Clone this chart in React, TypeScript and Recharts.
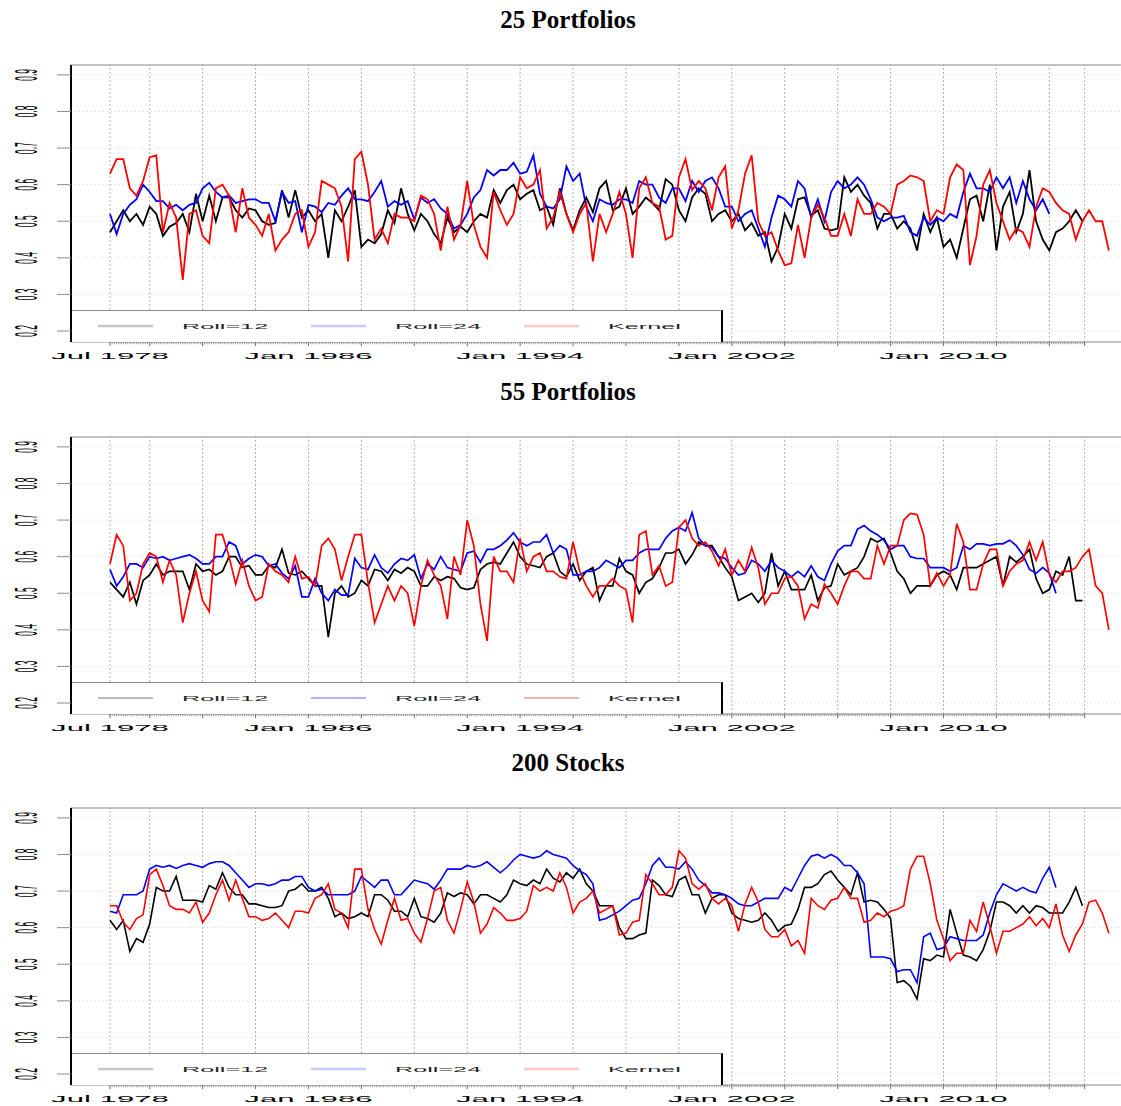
import React from 'react';
import { LineChart, Line, XAxis, YAxis, CartesianGrid, ReferenceLine, Legend } from 'recharts';

// ---- axis / tick definitions (months counted from Jul 1978) ----
const STEP = 3; // months between stored samples
const yTicks = [0.2, 0.3, 0.4, 0.5, 0.6, 0.7, 0.8, 0.9];
const gridMonths = [0, 18, 42, 66, 90, 114, 138, 162, 186, 210, 234, 258, 282, 306, 330, 354, 378, 402, 426, 442];
const labelMonths = [0, 90, 186, 282, 378];
const labelTexts = ['Jul 1978', 'Jan 1986', 'Jan 1994', 'Jan 2002', 'Jan 2010'];
const LAST_TICK_MONTH = 442;
const monthTicks = Array.from({ length: LAST_TICK_MONTH + 1 }, (_, i) => i);
const titles = ['25 Portfolios', '55 Portfolios', '200 Stocks'];
const seriesNames = ['Roll=12', 'Roll=24', 'Kernel'];

const X_MIN = -17.69;
const X_MAX = 458.5;
const Y_MIN = 0.17;
const Y_MAX = 0.927;

// ---- Panel 1: 25 Portfolios ----
const p1Roll12 = [
  0.47, 0.50, 0.53, 0.50, 0.52, 0.49, 0.54, 0.52, 0.46, 0.485,
  0.495, 0.52, 0.47, 0.575, 0.50, 0.57, 0.50, 0.565, 0.565, 0.53,
  0.51, 0.535, 0.53, 0.50, 0.49, 0.495, 0.585, 0.51, 0.585, 0.51,
  0.53, 0.50, 0.52, 0.40, 0.53, 0.50, 0.54, 0.585, 0.43, 0.45,
  0.44, 0.465, 0.53, 0.495, 0.59, 0.52, 0.475, 0.52, 0.50, 0.465,
  0.44,
  0.51, 0.47, 0.485, 0.47, 0.50, 0.52, 0.51, 0.585, 0.55, 0.585,
  0.60, 0.56, 0.575, 0.585, 0.53, 0.54, 0.49, 0.59, 0.52, 0.475,
  0.53, 0.565, 0.525, 0.59, 0.61, 0.53, 0.54, 0.59, 0.52, 0.54,
  0.565, 0.55, 0.53, 0.615, 0.60, 0.53, 0.50, 0.565, 0.59, 0.575,
  0.50, 0.52, 0.53, 0.50, 0.52, 0.475, 0.495, 0.46, 0.47, 0.39,
  0.43, 0.52,
  0.48, 0.56, 0.565, 0.515, 0.53, 0.48, 0.475, 0.48, 0.62, 0.58,
  0.60, 0.57, 0.55, 0.48, 0.52, 0.52, 0.48, 0.50, 0.48, 0.42,
  0.52, 0.47, 0.51, 0.43, 0.45, 0.40, 0.48, 0.56, 0.57, 0.50,
  0.60, 0.42, 0.54, 0.58, 0.47, 0.52, 0.64, 0.50, 0.45, 0.42,
  0.47, 0.48, 0.50, 0.53, 0.50,
];
const p1Roll24 = [
  0.52, 0.465, 0.52, 0.545, 0.56, 0.60, 0.58, 0.555, 0.555, 0.535,
  0.545, 0.53, 0.545, 0.55, 0.59, 0.605, 0.58, 0.565, 0.57, 0.55,
  0.555, 0.56, 0.56, 0.55, 0.55, 0.50, 0.58, 0.55, 0.555, 0.47,
  0.545, 0.54, 0.525, 0.55, 0.545, 0.57, 0.59, 0.56, 0.56, 0.555,
  0.58, 0.61, 0.54, 0.555, 0.545, 0.555, 0.505, 0.565, 0.55, 0.56,
  0.535,
  0.52, 0.48, 0.49, 0.52, 0.565, 0.585, 0.64, 0.625, 0.64, 0.64,
  0.66, 0.63, 0.635, 0.68, 0.575, 0.54, 0.535, 0.56, 0.65, 0.61,
  0.63, 0.54, 0.50, 0.56, 0.55, 0.545, 0.56, 0.56, 0.55, 0.61,
  0.60, 0.60, 0.565, 0.55, 0.59, 0.59, 0.555, 0.61, 0.58, 0.61,
  0.62, 0.59, 0.54, 0.54, 0.50, 0.52, 0.53, 0.48, 0.43, 0.51,
  0.57, 0.56,
  0.54, 0.61, 0.59, 0.51, 0.56, 0.50, 0.58, 0.61, 0.59, 0.60,
  0.62, 0.60, 0.56, 0.51, 0.50, 0.51, 0.51, 0.515, 0.47, 0.46,
  0.51, 0.49, 0.51, 0.50, 0.52, 0.51, 0.58, 0.63, 0.59, 0.59,
  0.58, 0.62, 0.59, 0.62, 0.55, 0.61, 0.56, 0.53, 0.56, 0.52,
];
const p1Kernel = [
  0.63, 0.67, 0.67, 0.59, 0.57, 0.61, 0.675, 0.68, 0.47, 0.55,
  0.51, 0.34, 0.52, 0.53, 0.46, 0.44, 0.59, 0.60, 0.57, 0.47,
  0.59, 0.51, 0.49, 0.46, 0.52, 0.42, 0.45, 0.47, 0.52, 0.53,
  0.43, 0.47, 0.61, 0.60, 0.59, 0.54, 0.39, 0.67, 0.69, 0.60,
  0.45, 0.48, 0.44, 0.52, 0.51, 0.51, 0.50, 0.57, 0.56, 0.52,
  0.42,
  0.54, 0.45, 0.49, 0.61, 0.49, 0.43, 0.40, 0.58, 0.53, 0.49,
  0.52, 0.62, 0.59, 0.60, 0.64, 0.48, 0.51, 0.58, 0.52, 0.47,
  0.52, 0.55, 0.39, 0.52, 0.47, 0.52, 0.58, 0.52, 0.40, 0.59,
  0.62, 0.55, 0.54, 0.45, 0.46, 0.62, 0.67, 0.585, 0.61, 0.59,
  0.53, 0.62, 0.65, 0.48, 0.53, 0.63, 0.68, 0.50, 0.46, 0.47,
  0.42, 0.38,
  0.385, 0.49, 0.40, 0.51, 0.545, 0.51, 0.46, 0.46, 0.52, 0.46,
  0.56, 0.52, 0.52, 0.55, 0.54, 0.52, 0.60, 0.61, 0.625, 0.62,
  0.61, 0.50, 0.53, 0.52, 0.62, 0.655, 0.64, 0.38, 0.46, 0.60,
  0.64, 0.55, 0.50, 0.45, 0.48, 0.47, 0.43, 0.54, 0.59, 0.58,
  0.55, 0.53, 0.52, 0.45, 0.50, 0.53, 0.50, 0.50, 0.42,
];

// ---- Panel 2: 55 Portfolios ----
const p2Roll12 = [
  0.53, 0.51, 0.49, 0.53, 0.47, 0.535, 0.55, 0.58, 0.55, 0.56,
  0.56, 0.56, 0.51, 0.58, 0.56, 0.565, 0.55, 0.56, 0.60, 0.60,
  0.57, 0.575, 0.55, 0.55, 0.575, 0.57, 0.62, 0.555, 0.55, 0.56,
  0.54, 0.52, 0.52, 0.38, 0.50, 0.52, 0.49, 0.50, 0.535, 0.52,
  0.565, 0.56, 0.535, 0.565, 0.555, 0.57, 0.56, 0.52, 0.52, 0.545,
  0.535,
  0.545, 0.54, 0.515, 0.51, 0.515, 0.565, 0.58, 0.585, 0.58, 0.61,
  0.64, 0.60, 0.58, 0.575, 0.57, 0.60, 0.61, 0.56, 0.545, 0.58,
  0.535, 0.56, 0.57, 0.48, 0.52, 0.52, 0.595, 0.56, 0.55, 0.50,
  0.53, 0.54, 0.57, 0.61, 0.61, 0.62, 0.58, 0.605, 0.64, 0.63,
  0.63, 0.60, 0.57, 0.545, 0.48, 0.49, 0.50, 0.475, 0.50, 0.61,
  0.52, 0.56,
  0.51, 0.51, 0.51, 0.55, 0.48, 0.515, 0.52, 0.58, 0.55, 0.56,
  0.57, 0.60, 0.65, 0.64, 0.65, 0.61, 0.56, 0.54, 0.50, 0.52,
  0.52, 0.52, 0.55, 0.56, 0.55, 0.51, 0.57, 0.57, 0.57, 0.58,
  0.59, 0.60, 0.52, 0.60, 0.585, 0.60, 0.62, 0.54, 0.50, 0.51,
  0.56, 0.55, 0.60, 0.48, 0.48,
];
const p2Roll24 = [
  0.565, 0.52, 0.545, 0.58, 0.58, 0.57, 0.60, 0.595, 0.60, 0.59,
  0.595, 0.60, 0.605, 0.595, 0.58, 0.58, 0.60, 0.60, 0.64, 0.63,
  0.58, 0.595, 0.605, 0.60, 0.575, 0.58, 0.555, 0.54, 0.575, 0.49,
  0.49, 0.54, 0.50, 0.48, 0.51, 0.495, 0.495, 0.595, 0.57, 0.565,
  0.605, 0.57, 0.555, 0.58, 0.595, 0.59, 0.605, 0.54, 0.58, 0.565,
  0.60,
  0.57, 0.565, 0.56, 0.61, 0.615, 0.585, 0.62, 0.62, 0.63, 0.645,
  0.665, 0.64, 0.63, 0.64, 0.64, 0.66, 0.61, 0.63, 0.62, 0.55,
  0.55, 0.56, 0.56, 0.57, 0.59, 0.58, 0.57, 0.59, 0.59, 0.61,
  0.62, 0.62, 0.62, 0.65, 0.67, 0.68, 0.67, 0.72, 0.65, 0.63,
  0.625, 0.60, 0.595, 0.57, 0.55, 0.555, 0.59, 0.58, 0.56, 0.59,
  0.57, 0.56,
  0.545, 0.56, 0.545, 0.575, 0.545, 0.535, 0.58, 0.615, 0.63, 0.63,
  0.675, 0.685, 0.67, 0.66, 0.645, 0.62, 0.63, 0.63, 0.60, 0.595,
  0.595, 0.57, 0.57, 0.57, 0.56, 0.57, 0.63, 0.62, 0.635, 0.635,
  0.63, 0.635, 0.635, 0.645, 0.63, 0.605, 0.565, 0.555, 0.57, 0.555,
  0.50,
];
const p2Kernel = [
  0.58, 0.66, 0.63, 0.48, 0.50, 0.58, 0.61, 0.60, 0.53, 0.59,
  0.55, 0.42, 0.50, 0.56, 0.48, 0.45, 0.66, 0.66, 0.60, 0.525,
  0.59, 0.52, 0.48, 0.49, 0.58, 0.56, 0.55, 0.53, 0.60, 0.54,
  0.545, 0.52, 0.63, 0.65, 0.62, 0.535, 0.60, 0.66, 0.66, 0.53,
  0.42, 0.47, 0.52, 0.48, 0.52, 0.50, 0.41, 0.52, 0.59, 0.55,
  0.52,
  0.43, 0.60, 0.55, 0.70, 0.63, 0.47, 0.37, 0.60, 0.56, 0.56,
  0.53, 0.65, 0.56, 0.60, 0.61, 0.56, 0.56, 0.545, 0.54, 0.64,
  0.56, 0.52, 0.49, 0.52, 0.52, 0.54, 0.52, 0.51, 0.42, 0.66,
  0.67, 0.55, 0.575, 0.52, 0.53, 0.68, 0.70, 0.65, 0.63, 0.64,
  0.615, 0.575, 0.62, 0.55, 0.59, 0.56, 0.625, 0.57, 0.47, 0.50,
  0.50, 0.54,
  0.545, 0.52, 0.43, 0.47, 0.46, 0.525, 0.50, 0.47, 0.52, 0.56,
  0.56, 0.54, 0.54, 0.63, 0.58, 0.63, 0.63, 0.70, 0.718, 0.715,
  0.66, 0.52, 0.555, 0.52, 0.55, 0.69, 0.64, 0.51, 0.51, 0.58,
  0.62, 0.62, 0.52, 0.56, 0.58, 0.59, 0.64, 0.59, 0.64, 0.55,
  0.53, 0.56, 0.56, 0.57, 0.60, 0.62, 0.52, 0.50, 0.40,
];

// ---- Panel 3: 200 Stocks ----
const p3Roll12 = [
  0.62, 0.595, 0.62, 0.535, 0.57, 0.56, 0.61, 0.71, 0.70, 0.70,
  0.74, 0.675, 0.675, 0.675, 0.67, 0.715, 0.705, 0.75, 0.71, 0.69,
  0.69, 0.665, 0.665, 0.66, 0.655, 0.655, 0.66, 0.70, 0.705, 0.72,
  0.70, 0.70, 0.71, 0.68, 0.63, 0.64, 0.625, 0.63, 0.64, 0.63,
  0.69, 0.69, 0.675, 0.645, 0.645, 0.63, 0.68, 0.63, 0.625, 0.615,
  0.64,
  0.695, 0.685, 0.695, 0.69, 0.665, 0.69, 0.69, 0.68, 0.67, 0.69,
  0.73, 0.72, 0.715, 0.73, 0.72, 0.76, 0.735, 0.725, 0.75, 0.735,
  0.76, 0.72, 0.70, 0.66, 0.66, 0.66, 0.60, 0.57, 0.57, 0.58,
  0.585, 0.73, 0.715, 0.69, 0.685, 0.73, 0.74, 0.69, 0.69, 0.64,
  0.68, 0.69, 0.69, 0.64, 0.625, 0.62, 0.615, 0.62, 0.64, 0.62,
  0.59, 0.605,
  0.61, 0.65, 0.71, 0.71, 0.72, 0.745, 0.755, 0.73, 0.71, 0.69,
  0.75, 0.67, 0.675, 0.67, 0.65, 0.625, 0.45, 0.455, 0.44, 0.405,
  0.515, 0.51, 0.525, 0.52, 0.65, 0.585, 0.525, 0.52, 0.51, 0.54,
  0.59, 0.67, 0.67, 0.66, 0.64, 0.66, 0.64, 0.66, 0.655, 0.64,
  0.64, 0.64, 0.67, 0.71, 0.66,
];
const p3Roll24 = [
  0.645, 0.64, 0.69, 0.69, 0.69, 0.70, 0.76, 0.77, 0.765, 0.77,
  0.762, 0.77, 0.775, 0.77, 0.765, 0.775, 0.78, 0.78, 0.77, 0.75,
  0.73, 0.71, 0.72, 0.72, 0.715, 0.72, 0.73, 0.73, 0.74, 0.74,
  0.71, 0.70, 0.705, 0.69, 0.69, 0.69, 0.69, 0.70, 0.74, 0.725,
  0.71, 0.73, 0.73, 0.69, 0.69, 0.71, 0.73, 0.725, 0.72, 0.705,
  0.73,
  0.76, 0.76, 0.76, 0.77, 0.765, 0.77, 0.78, 0.765, 0.75, 0.765,
  0.785, 0.80, 0.795, 0.79, 0.795, 0.81, 0.80, 0.795, 0.79, 0.77,
  0.755, 0.745, 0.72, 0.62, 0.625, 0.635, 0.645, 0.66, 0.675, 0.68,
  0.72, 0.77, 0.79, 0.765, 0.765, 0.76, 0.78, 0.76, 0.73, 0.715,
  0.695, 0.695, 0.69, 0.68, 0.665, 0.66, 0.66, 0.67, 0.68, 0.68,
  0.68, 0.71,
  0.70, 0.735, 0.77, 0.795, 0.80, 0.79, 0.80, 0.79, 0.77, 0.77,
  0.75, 0.72, 0.52, 0.52, 0.52, 0.515, 0.48, 0.485, 0.485, 0.45,
  0.575, 0.585, 0.54, 0.545, 0.575, 0.57, 0.565, 0.565, 0.565, 0.58,
  0.64, 0.69, 0.72, 0.71, 0.70, 0.71, 0.70, 0.695, 0.735, 0.765,
  0.71,
];
const p3Kernel = [
  0.66, 0.66, 0.615, 0.595, 0.625, 0.635, 0.745, 0.76, 0.715, 0.66,
  0.65, 0.65, 0.64, 0.67, 0.615, 0.64, 0.69, 0.73, 0.675, 0.73,
  0.68, 0.63, 0.63, 0.62, 0.625, 0.64, 0.62, 0.60, 0.645, 0.645,
  0.64, 0.68, 0.69, 0.72, 0.65, 0.64, 0.60, 0.76, 0.76, 0.65,
  0.595, 0.555, 0.62, 0.68, 0.62, 0.625, 0.585, 0.56, 0.625, 0.70,
  0.71,
  0.62, 0.585, 0.65, 0.725, 0.67, 0.585, 0.61, 0.655, 0.64, 0.62,
  0.62, 0.625, 0.645, 0.715, 0.70, 0.71, 0.70, 0.75, 0.71, 0.64,
  0.67, 0.68, 0.70, 0.64, 0.65, 0.66, 0.58, 0.585, 0.615, 0.62,
  0.745, 0.72, 0.69, 0.69, 0.71, 0.81, 0.79, 0.72, 0.705, 0.72,
  0.68, 0.665, 0.68, 0.66, 0.59, 0.665, 0.71, 0.67, 0.595, 0.575,
  0.575, 0.595,
  0.55, 0.565, 0.53, 0.68, 0.66, 0.65, 0.675, 0.68, 0.71, 0.68,
  0.68, 0.615, 0.62, 0.64, 0.63, 0.645, 0.65, 0.66, 0.76, 0.795,
  0.795, 0.72, 0.62, 0.57, 0.51, 0.53, 0.53, 0.62, 0.59, 0.67,
  0.605, 0.53, 0.59, 0.59, 0.60, 0.61, 0.63, 0.605, 0.625, 0.60,
  0.665, 0.58, 0.535, 0.58, 0.61, 0.67, 0.675, 0.64, 0.585,
];

// ---- legend sample colours per panel ----
const legendPale = ['#c8c8c8', '#c8c8ff', '#ffc8c8'];
const legendThin = ['#7a7a7a', '#6464ff', '#ff6464'];

const SANS = '"Liberation Sans", Arial, Helvetica, sans-serif';

function buildRows(r12: number[], r24: number[], ker: number[]) {
  const n = Math.max(r12.length, r24.length, ker.length);
  const rows: any[] = [];
  for (let i = 0; i < n; i++) {
    rows.push({ t: i * STEP, r12: r12[i], r24: r24[i], ker: ker[i] });
  }
  return rows;
}

const XTick = (props: any) => {
  const { x, y, payload } = props;
  const v = payload.value;
  const major = gridMonths.includes(v);
  const li = labelMonths.indexOf(v);
  return (
    <g>
      <line x1={x} x2={x} y1={y} y2={y + (major ? 4 : 2.2)} stroke="#707070" strokeWidth={major ? 1.1 : 0.7} />
      {li >= 0 && (
        <text
          transform={`translate(${x},${y + 16.5}) scale(3.12,0.84)`}
          textAnchor="middle"
          fontFamily={SANS}
          fontSize={10}
          fill="#000"
        >
          {labelTexts[li]}
        </text>
      )}
    </g>
  );
};

const YTick = (props: any) => {
  const { x, y, payload } = props;
  return (
    <text
      transform={`translate(${x},${y}) scale(3.15,0.84) rotate(-90)`}
      textAnchor="middle"
      fontFamily={SANS}
      fontSize={10}
      fill="#000"
    >
      {Number(payload.value).toFixed(1)}
    </text>
  );
};

function makeLegend(colors: string[], width: number) {
  return () => (
    <div
      style={{
        width: 651,
        height: 32,
        boxSizing: 'border-box',
        borderTop: '1px solid #8c8c8c',
        borderRight: '2px solid #000',
        background: '#fff',
      }}
    >
      <svg width={649} height={31} style={{ display: 'block' }}>
        {seriesNames.map((name: string, i: number) => (
          <g key={name}>
            <line x1={26 + 213 * i} x2={81 + 213 * i} y1={15} y2={15} stroke={colors[i]} strokeWidth={width} />
            <text
              transform={`translate(${110 + 213 * i},17.5) scale(3.15,0.84)`}
              fontFamily={SANS}
              fontSize={8}
              fill="#222"
            >
              {name}
            </text>
          </g>
        ))}
      </svg>
    </div>
  );
}

function Panel(props: { title: string; rows: any[]; legendColors: string[]; legendWidth: number; lineWidth: number; top: number }) {
  const { title, rows, legendColors, legendWidth, lineWidth, top } = props;
  return (
    <div style={{ position: 'absolute', left: 0, top, width: 1121, height: 372 }}>
      <div
        style={{
          position: 'absolute',
          left: 268,
          top: 5,
          width: 600,
          textAlign: 'center',
          fontFamily: '"Liberation Serif", "Times New Roman", serif',
          fontWeight: 'bold',
          fontSize: 25,
          lineHeight: '30px',
          color: '#000',
        }}
      >
        {title}
      </div>
      <LineChart width={1121} height={372} data={rows} margin={{ top: 65, right: 0, bottom: 0, left: 0 }}>
        <CartesianGrid vertical={false} stroke="#d4d4d4" strokeDasharray="1 3" />
        {gridMonths.map((m) => (
          <ReferenceLine key={m} x={m} stroke="#b0b0b0" strokeDasharray="2 2" />
        ))}
        <ReferenceLine y={Y_MAX} stroke="#8c8c8c" />
        <XAxis
          dataKey="t"
          type="number"
          domain={[X_MIN, X_MAX]}
          ticks={monthTicks}
          interval={0}
          tick={(p: any) => <XTick {...p} />}
          tickLine={false}
          tickSize={0}
          tickMargin={0}
          height={30}
          axisLine={{ stroke: '#8c8c8c' }}
          allowDataOverflow
        />
        <YAxis
          type="number"
          domain={[Y_MIN, Y_MAX]}
          ticks={yTicks}
          interval={0}
          width={71}
          tickSize={14}
          tickMargin={20}
          tick={(p: any) => <YTick {...p} />}
          tickLine={{ stroke: '#8c8c8c' }}
          axisLine={{ stroke: '#000', strokeWidth: 2 }}
          allowDataOverflow
        />
        <Line type="linear" dataKey="r12" name={seriesNames[0]} stroke="#000000" strokeWidth={lineWidth} dot={false} isAnimationActive={false} />
        <Line type="linear" dataKey="r24" name={seriesNames[1]} stroke="#0000ff" strokeWidth={lineWidth} dot={false} isAnimationActive={false} />
        <Line type="linear" dataKey="ker" name={seriesNames[2]} stroke="#ff0000" strokeWidth={lineWidth} dot={false} isAnimationActive={false} />
        <Legend
          layout="horizontal"
          verticalAlign="middle"
          align="center"
          content={makeLegend(legendColors, legendWidth)}
          wrapperStyle={{ position: 'absolute', left: 72, top: 310, width: 651, height: 32, margin: 0, padding: 0 }}
        />
      </LineChart>
    </div>
  );
}

export default function App() {
  const rows1 = buildRows(p1Roll12, p1Roll24, p1Kernel);
  const rows2 = buildRows(p2Roll12, p2Roll24, p2Kernel);
  const rows3 = buildRows(p3Roll12, p3Roll24, p3Kernel);
  return (
    <div style={{ position: 'absolute', left: 0, top: 0, width: 1121, height: 1106, overflow: 'hidden', background: '#fff' }}>
      <Panel title={titles[0]} rows={rows1} legendColors={legendPale} legendWidth={2.5} lineWidth={1.8} top={0} />
      <Panel title={titles[1]} rows={rows2} legendColors={legendThin} legendWidth={1} lineWidth={1.7} top={372} />
      <Panel title={titles[2]} rows={rows3} legendColors={legendPale} legendWidth={2.5} lineWidth={1.6} top={743} />
    </div>
  );
}
